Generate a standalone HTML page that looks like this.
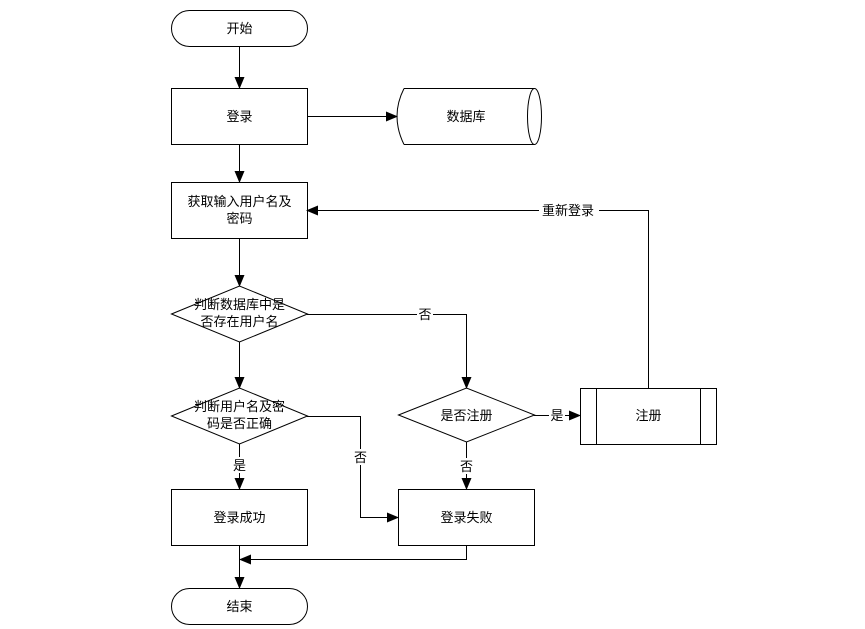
<!DOCTYPE html>
<html><head><meta charset="utf-8"><style>body{margin:0;background:#fff}svg{display:block}text{font-family:"Liberation Sans","Noto Sans CJK SC",sans-serif;font-size:13px;fill:#000}</style></head><body>
<svg width="865" height="629" viewBox="0 0 865 629" xmlns="http://www.w3.org/2000/svg">
<defs><marker id="a" markerWidth="12" markerHeight="10" refX="11" refY="5" orient="auto" markerUnits="userSpaceOnUse"><path d="M0,0 L12,5 L0,10 Z" fill="#000"/></marker></defs>
<g stroke="#000" stroke-width="1" fill="none">
<rect x="171.5" y="10.5" width="136" height="36" rx="18" fill="#fff"/>
<rect x="171.5" y="88.5" width="136" height="56" fill="#fff"/>
<rect x="171.5" y="182.5" width="136" height="56" fill="#fff"/>
<path d="M171.5,314 L239.5,286 L307.5,314 L239.5,342 Z" fill="#fff"/>
<path d="M171.5,416 L239.5,388 L307.5,416 L239.5,444 Z" fill="#fff"/>
<rect x="171.5" y="489.5" width="136" height="56" fill="#fff"/>
<rect x="171.5" y="588.5" width="136" height="36" rx="18" fill="#fff"/>
<path d="M398.5,415 L466.5,388 L534.5,415 L466.5,442 Z" fill="#fff"/>
<rect x="580.5" y="388.5" width="136" height="56" fill="#fff"/>
<line x1="596.5" y1="388" x2="596.5" y2="444"/><line x1="700.5" y1="388" x2="700.5" y2="444"/>
<rect x="398.5" y="489.5" width="136" height="56" fill="#fff"/>
<path d="M404,88.5 L534,88.5 M404,144.5 L534,144.5 M404,88.5 Q390,116 404,144.5" />
<ellipse cx="534.5" cy="116.5" rx="7" ry="28"/>
<line x1="239.5" y1="46" x2="239.5" y2="88" marker-end="url(#a)"/>
<line x1="307" y1="116.5" x2="397" y2="116.5" marker-end="url(#a)"/>
<line x1="239.5" y1="144" x2="239.5" y2="182" marker-end="url(#a)"/>
<line x1="239.5" y1="238" x2="239.5" y2="286" marker-end="url(#a)"/>
<line x1="239.5" y1="342" x2="239.5" y2="388" marker-end="url(#a)"/>
<polyline points="307,314.5 466.5,314.5 466.5,388" marker-end="url(#a)"/>
<polyline points="307,416.5 360.5,416.5 360.5,517.5 398,517.5" marker-end="url(#a)"/>
<line x1="534" y1="415.5" x2="580" y2="415.5" marker-end="url(#a)"/>
<line x1="466.5" y1="442" x2="466.5" y2="489" marker-end="url(#a)"/>
<line x1="239.5" y1="444" x2="239.5" y2="489" marker-end="url(#a)"/>
<polyline points="648.5,388 648.5,210.5 307,210.5" marker-end="url(#a)"/>
<polyline points="466.5,545 466.5,559.5 240,559.5" marker-end="url(#a)"/>
<line x1="239.5" y1="545" x2="239.5" y2="588" marker-end="url(#a)"/>
</g>
<g text-anchor="middle">
<text x="239.5" y="33">开始</text>
<text x="239.5" y="121">登录</text>
<text x="466" y="121">数据库</text>
<text x="239.5" y="206">获取输入用户名及</text>
<text x="239.5" y="223">密码</text>
<text x="239.5" y="309">判断数据库中是</text>
<text x="239.5" y="326">否存在用户名</text>
<text x="239.5" y="411">判断用户名及密</text>
<text x="239.5" y="428">码是否正确</text>
<text x="466.5" y="420">是否注册</text>
<text x="648.5" y="420">注册</text>
<text x="239.5" y="522">登录成功</text>
<text x="466.5" y="522">登录失败</text>
<text x="239.5" y="611">结束</text>
</g>
<g text-anchor="middle">
<rect x="417" y="306" width="16" height="16" fill="#fff"/><text x="425" y="319">否</text>
<rect x="352" y="449" width="16" height="16" fill="#fff"/><text x="360.5" y="462">否</text>
<rect x="549" y="407" width="16" height="16" fill="#fff"/><text x="557" y="420">是</text>
<rect x="458" y="458" width="16" height="16" fill="#fff"/><text x="466.5" y="471">否</text>
<rect x="231" y="457" width="16" height="16" fill="#fff"/><text x="239.5" y="470">是</text>
<rect x="539" y="202" width="60" height="16" fill="#fff"/><text x="568" y="215">重新登录</text>
</g>
</svg>
</body></html>
